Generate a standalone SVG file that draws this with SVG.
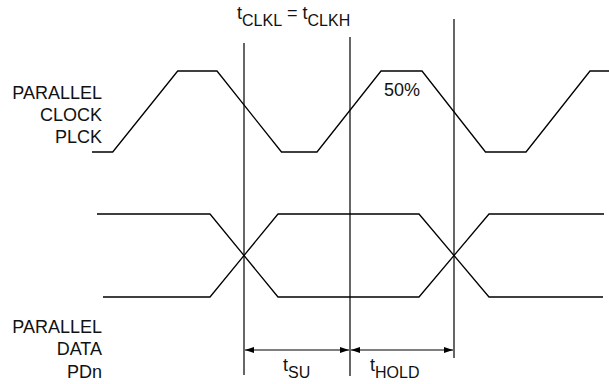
<svg xmlns="http://www.w3.org/2000/svg" width="609" height="384" viewBox="0 0 609 384">
<style>
.w{fill:none;stroke:#000;stroke-width:1.3;stroke-linejoin:miter}
.v{fill:none;stroke:#000;stroke-width:1.2}
.t{font-family:"Liberation Sans",Arial,sans-serif;font-size:18px;fill:#111}
.s{font-size:16px}
.lab{text-anchor:end}
</style>
<defs>
<marker id="ah" viewBox="0 0 9 6" refX="9" refY="3" markerWidth="9" markerHeight="6" markerUnits="userSpaceOnUse" orient="auto-start-reverse">
<path d="M0,0 L9,3 L0,6 z" fill="#000"/>
</marker>
</defs>
<rect width="609" height="384" fill="#fff"/>
<g id="clock">
<polyline class="w" points="92,152 112.7,152 177.7,71 217,71 281.5,152 317,152 381,71 422,71 485.5,152 526,152 590,71 609,71"/>
<text class="t lab" x="102" y="99">PARALLEL</text>
<text class="t lab" x="102" y="121">CLOCK</text>
<text class="t lab" x="102" y="143">PLCK</text>
<text class="t" x="384" y="96">50%</text>
</g>
<g id="data">
<polyline class="w" points="97,214 210,214 278,297 419,297 489,214 604,214"/>
<polyline class="w" points="103,297 210,297 278,214 419,214 489,297 603,297"/>
<text class="t lab" x="102" y="333">PARALLEL</text>
<text class="t lab" x="102" y="355">DATA</text>
<text class="t lab" x="102" y="378">PDn</text>
</g>
<g id="connectors">
<line class="v" x1="244" y1="43" x2="244" y2="375"/>
<line class="v" x1="350" y1="37" x2="350" y2="376"/>
<line class="v" x1="454" y1="19" x2="454" y2="358"/>
<line class="v" x1="245" y1="350" x2="349" y2="350" marker-start="url(#ah)" marker-end="url(#ah)"/>
<line class="v" x1="351" y1="350" x2="453" y2="350" marker-start="url(#ah)" marker-end="url(#ah)"/>
</g>
<g id="labels">
<text class="t" x="237" y="19">t<tspan class="s" dy="7">CLKL</tspan><tspan dy="-7"> = t</tspan><tspan class="s" dy="7">CLKH</tspan></text>
<text class="t" x="283" y="371">t<tspan class="s" dy="7">SU</tspan></text>
<text class="t" x="370" y="371">t<tspan class="s" dy="7">HOLD</tspan></text>
</g>
</svg>
